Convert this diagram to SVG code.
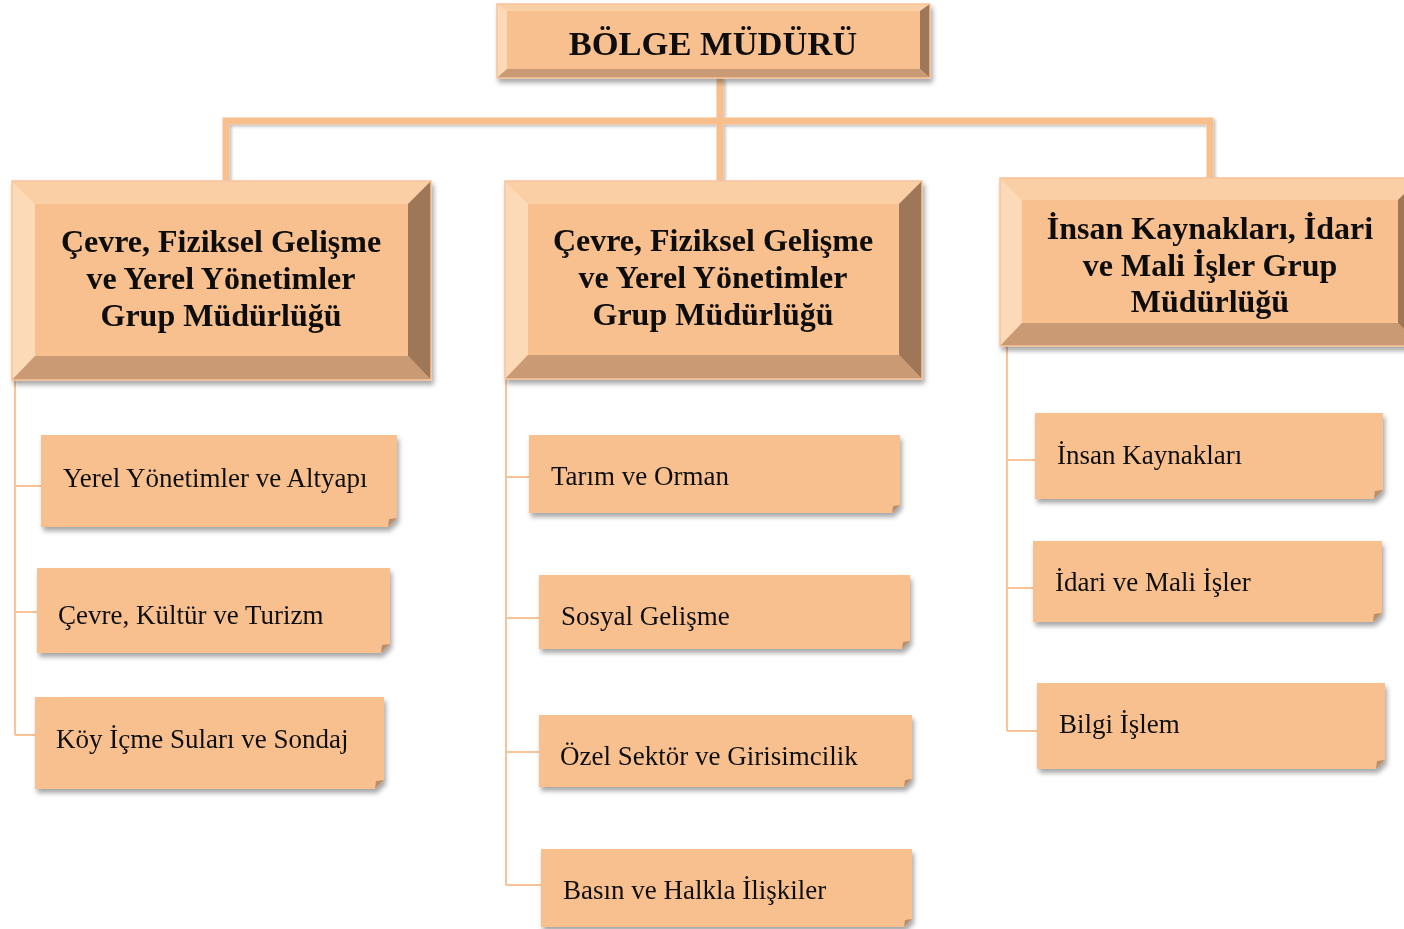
<svg xmlns="http://www.w3.org/2000/svg" width="1404" height="929" viewBox="0 0 1404 929">
<defs>
<filter id="sh" x="-5%" y="-5%" width="115%" height="125%">
<feDropShadow dx="2" dy="4" stdDeviation="2.5" flood-color="#000" flood-opacity="0.35"/>
</filter>
<filter id="lsh" x="-5%" y="-5%" width="115%" height="125%">
<feDropShadow dx="2" dy="2" stdDeviation="1.5" flood-color="#000" flood-opacity="0.25"/>
</filter>
</defs>
<style>
.face{fill:#F8BF8F}
.bt{fill:#FBCFA6}
.bl{fill:#FCD9B7}
.br{fill:#9E7758}
.bb{fill:#C99A73}
.edge{fill:none;stroke:#F6C39A;stroke-width:1.5}
.card{fill:#F8C08F}
.fold{fill:#B98E6C}
.thick{stroke:#F8BF8D;stroke-width:7;fill:none}
.thin{stroke:#F8C396;stroke-width:2;fill:none}
.hd{font-family:"Liberation Serif",serif;font-weight:bold;fill:#111;text-anchor:middle}
.lb{font-family:"Liberation Serif",serif;font-size:27px;fill:#111}
</style>

<g id="connectors">
<g filter="url(#lsh)">
<path class="thick" d="M720 78 V180 M226 180 V121 H1210 V178"/>
</g>
<path class="thin" d="M15 380 V735 M15 486 H41 M15 612 H37 M15 735 H35"/>
<path class="thin" d="M506 379 V885 M506 477 H529 M506 618 H539 M506 752 H539 M506 885 H541"/>
<path class="thin" d="M1007 346 V731 M1007 460 H1035 M1007 588 H1033 M1007 731 H1037"/>
</g>

<g id="bolge-muduru" filter="url(#sh)">
<rect class="face" x="497" y="4" width="433" height="74"/>
<polygon class="bt" points="497,4 930,4 920,11 507,11"/>
<polygon class="bl" points="497,4 507,11 507,69 497,78"/>
<polygon class="br" points="930,4 930,78 920,69 920,11"/>
<polygon class="bb" points="497,78 930,78 920,69 507,69"/>
<rect class="edge" x="497" y="4" width="433" height="74"/>
<text class="hd" x="713" y="55" font-size="34.5">BÖLGE MÜDÜRÜ</text>
</g>

<g id="grup-sol" filter="url(#sh)">
<rect class="face" x="12" y="181" width="419" height="199"/>
<polygon class="bt" points="12,181 431,181 408,204 35,204"/>
<polygon class="bl" points="12,181 35,204 35,356 12,380"/>
<polygon class="br" points="431,181 431,380 408,356 408,204"/>
<polygon class="bb" points="12,380 431,380 408,356 35,356"/>
<rect class="edge" x="12" y="181" width="419" height="199"/>
<text class="hd" font-size="32"><tspan x="221" y="252">Çevre, Fiziksel Gelişme</tspan><tspan x="221" y="289">ve Yerel Yönetimler</tspan><tspan x="221" y="326">Grup Müdürlüğü</tspan></text>
</g>

<g id="grup-orta" filter="url(#sh)">
<rect class="face" x="505" y="181" width="417" height="198"/>
<polygon class="bt" points="505,181 922,181 899,204 528,204"/>
<polygon class="bl" points="505,181 528,204 528,355 505,379"/>
<polygon class="br" points="922,181 922,379 899,355 899,204"/>
<polygon class="bb" points="505,379 922,379 899,355 528,355"/>
<rect class="edge" x="505" y="181" width="417" height="198"/>
<text class="hd" font-size="32"><tspan x="713" y="251">Çevre, Fiziksel Gelişme</tspan><tspan x="713" y="288">ve Yerel Yönetimler</tspan><tspan x="713" y="325">Grup Müdürlüğü</tspan></text>
</g>

<g id="grup-sag" filter="url(#sh)">
<rect class="face" x="1000" y="178" width="420" height="168"/>
<polygon class="bt" points="1000,178 1420,178 1398,200 1022,200"/>
<polygon class="bl" points="1000,178 1022,200 1022,323 1000,346"/>
<polygon class="br" points="1420,178 1420,346 1398,323 1398,200"/>
<polygon class="bb" points="1000,346 1420,346 1398,323 1022,323"/>
<rect class="edge" x="1000" y="178" width="420" height="168"/>
<text class="hd" font-size="32"><tspan x="1210" y="239">İnsan Kaynakları, İdari</tspan><tspan x="1210" y="276">ve Mali İşler Grup</tspan><tspan x="1210" y="312">Müdürlüğü</tspan></text>
</g>

<g id="yerel-yonetimler" filter="url(#sh)">
<path class="card" d="M41 435 H397 V518 L388 527 H41 Z"/>
<path class="fold" d="M388 527 L397 518 L389 519 Z"/>
<text class="lb" x="63" y="487">Yerel Yönetimler ve Altyapı</text>
</g>
<g id="cevre-kultur" filter="url(#sh)">
<path class="card" d="M37 568 H390 V644 L381 653 H37 Z"/>
<path class="fold" d="M381 653 L390 644 L382 645 Z"/>
<text class="lb" x="58" y="624">Çevre, Kültür ve Turizm</text>
</g>
<g id="koy-icme" filter="url(#sh)">
<path class="card" d="M35 697 H384 V780 L375 789 H35 Z"/>
<path class="fold" d="M375 789 L384 780 L376 781 Z"/>
<text class="lb" x="56" y="748">Köy İçme Suları ve Sondaj</text>
</g>

<g id="tarim-orman" filter="url(#sh)">
<path class="card" d="M529 435 H900 V505 L892 513 H529 Z"/>
<path class="fold" d="M892 513 L900 505 L893 506 Z"/>
<text class="lb" x="551" y="485">Tarım ve Orman</text>
</g>
<g id="sosyal-gelisme" filter="url(#sh)">
<path class="card" d="M539 575 H910 V641 L902 649 H539 Z"/>
<path class="fold" d="M902 649 L910 641 L903 642 Z"/>
<text class="lb" x="561" y="625">Sosyal Gelişme</text>
</g>
<g id="ozel-sektor" filter="url(#sh)">
<path class="card" d="M539 715 H912 V779 L904 787 H539 Z"/>
<path class="fold" d="M904 787 L912 779 L905 780 Z"/>
<text class="lb" x="560" y="765">Özel Sektör ve Girisimcilik</text>
</g>
<g id="basin-halkla" filter="url(#sh)">
<path class="card" d="M541 849 H912 V919 L904 927 H541 Z"/>
<path class="fold" d="M904 927 L912 919 L905 920 Z"/>
<text class="lb" x="563" y="899">Basın ve Halkla İlişkiler</text>
</g>

<g id="insan-kaynaklari" filter="url(#sh)">
<path class="card" d="M1035 413 H1383 V490 L1374 499 H1035 Z"/>
<path class="fold" d="M1374 499 L1383 490 L1375 491 Z"/>
<text class="lb" x="1057" y="464">İnsan Kaynakları</text>
</g>
<g id="idari-mali" filter="url(#sh)">
<path class="card" d="M1033 541 H1382 V613 L1373 622 H1033 Z"/>
<path class="fold" d="M1373 622 L1382 613 L1374 614 Z"/>
<text class="lb" x="1055" y="591">İdari ve Mali İşler</text>
</g>
<g id="bilgi-islem" filter="url(#sh)">
<path class="card" d="M1037 683 H1385 V760 L1376 769 H1037 Z"/>
<path class="fold" d="M1376 769 L1385 760 L1377 761 Z"/>
<text class="lb" x="1059" y="733">Bilgi İşlem</text>
</g>
</svg>
